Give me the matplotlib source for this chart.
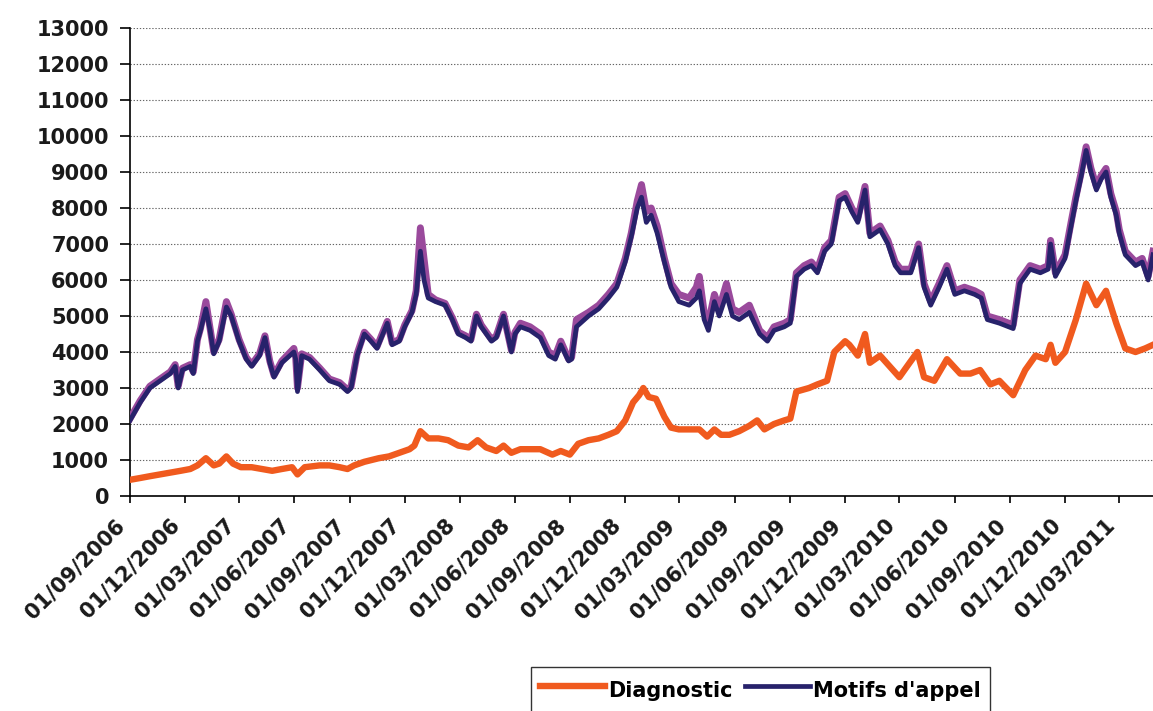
import matplotlib
matplotlib.use("Agg")
import matplotlib.pyplot as plt
import matplotlib.dates as mdates
from matplotlib.transforms import ScaledTranslation
import pandas as pd

# ---------------- data ----------------
motifs_dates = [
    "2006-09-01", "2006-09-18", "2006-10-04", "2006-10-21", "2006-11-07", "2006-11-15", "2006-11-20", "2006-11-27",
    "2006-12-10", "2006-12-15", "2006-12-22", "2006-12-27",
    "2007-01-05", "2007-01-12", "2007-01-18", "2007-01-27", "2007-02-08", "2007-02-16", "2007-03-01", "2007-03-13",
    "2007-03-22", "2007-04-04", "2007-04-13", "2007-04-21", "2007-04-28", "2007-05-11", "2007-05-31", "2007-06-03",
    "2007-06-06", "2007-06-13", "2007-06-26", "2007-07-13", "2007-07-29", "2007-08-15", "2007-08-28", "2007-09-03",
    "2007-09-13", "2007-09-25", "2007-10-06", "2007-10-16", "2007-11-02", "2007-11-10", "2007-11-22", "2007-12-01",
    "2007-12-13", "2007-12-20", "2007-12-27",
    "2008-01-02", "2008-01-09", "2008-01-21", "2008-02-06", "2008-02-18", "2008-02-28", "2008-03-11", "2008-03-20",
    "2008-03-29", "2008-04-06", "2008-04-23", "2008-05-01", "2008-05-13", "2008-05-26", "2008-06-01", "2008-06-10",
    "2008-06-26", "2008-07-13", "2008-07-27", "2008-08-07", "2008-08-16", "2008-08-29", "2008-09-03", "2008-09-11",
    "2008-10-01", "2008-10-18", "2008-11-03", "2008-11-17", "2008-12-01", "2008-12-11", "2008-12-21", "2008-12-28",
    "2009-01-05", "2009-01-13", "2009-01-23", "2009-02-04", "2009-02-15", "2009-02-28", "2009-03-17", "2009-03-29",
    "2009-04-03", "2009-04-11", "2009-04-18", "2009-04-28", "2009-05-06", "2009-05-18", "2009-05-28", "2009-06-08",
    "2009-06-25", "2009-07-12", "2009-07-25", "2009-08-05", "2009-08-22", "2009-09-01", "2009-09-11", "2009-09-24",
    "2009-10-06", "2009-10-16", "2009-10-28", "2009-11-08", "2009-11-21", "2009-12-01", "2009-12-12", "2009-12-22",
    "2010-01-03", "2010-01-11", "2010-01-28", "2010-02-10", "2010-02-22", "2010-03-03", "2010-03-20", "2010-04-02",
    "2010-04-11", "2010-04-22", "2010-05-06", "2010-05-19", "2010-06-01", "2010-06-17", "2010-07-04", "2010-07-15",
    "2010-07-25", "2010-08-14", "2010-09-06", "2010-09-17", "2010-10-04", "2010-10-21", "2010-11-03", "2010-11-07",
    "2010-11-15", "2010-12-01", "2010-12-11", "2010-12-19", "2010-12-28",
    "2011-01-05", "2011-01-13", "2011-01-22", "2011-01-30", "2011-02-07", "2011-02-15", "2011-02-24", "2011-03-01",
    "2011-03-11", "2011-03-28", "2011-04-08", "2011-04-18", "2011-04-26",
]
motifs_values = [
    2100, 2600, 3000, 3200, 3400, 3600, 3000, 3500, 3600, 3400, 4300, 4600,
    5200, 4600, 3950, 4300, 5250, 5000, 4300, 3800, 3600, 3900, 4400, 3700, 3300, 3700, 4000, 3800, 2900, 3900,
    3800, 3500, 3200, 3100, 2900, 3000, 3900, 4500, 4300, 4100, 4800, 4200, 4300, 4700, 5100, 5600, 6800,
    6000, 5500, 5400, 5300, 4900, 4500, 4400, 4300, 5000, 4700, 4300, 4400, 5000, 4000, 4500, 4700, 4600, 4400,
    3900, 3800, 4200, 3750, 3800, 4700, 5000, 5200, 5500, 5800, 6500, 7200, 8000, 8300,
    7600, 7800, 7300, 6500, 5800, 5400, 5300, 5500, 5700, 4900, 4600, 5400, 5000, 5600, 5000, 4900, 5100, 4500,
    4300, 4600, 4700, 4800, 6100, 6300, 6400, 6200, 6800, 7000, 8200, 8300, 7900, 7600,
    8500, 7200, 7400, 7000, 6400, 6200, 6200, 6900, 5800, 5300, 5800, 6300, 5600, 5700, 5600, 5500, 4900, 4800,
    4650, 5900, 6300, 6200, 6300, 7000, 6100, 6600, 7500, 8200, 8900,
    9600, 9000, 8500, 8800, 9000, 8300, 7800, 7300, 6700, 6400, 6500, 6000, 6700,
]
# purple trace drawn beneath the dark line (visible where it rises above it)
motifs_upper_values = [
    2150, 2650, 3050, 3250, 3450, 3650, 3050, 3550, 3650, 3450, 4350, 4650,
    5400, 4650, 4000, 4350, 5400, 5050, 4350, 3850, 3650, 3950, 4450, 3750, 3350, 3750, 4100, 3850, 3000, 3950,
    3850, 3550, 3250, 3150, 2950, 3050, 3950, 4550, 4350, 4150, 4850, 4250, 4350, 4750, 5150, 5700, 7450,
    6600, 5600, 5450, 5350, 4950, 4550, 4450, 4350, 5050, 4750, 4350, 4450, 5050, 4050, 4550, 4800, 4700, 4500,
    4000, 3900, 4300, 3800, 3850, 4900, 5100, 5300, 5600, 5900, 6600, 7300, 8200, 8650,
    7900, 8000, 7500, 6600, 5900, 5600, 5500, 5800, 6100, 5100, 4800, 5600, 5200, 5900, 5200, 5100, 5300, 4600,
    4400, 4700, 4800, 4900, 6200, 6400, 6500, 6300, 6900, 7100, 8300, 8400, 8000, 7700,
    8600, 7300, 7500, 7100, 6500, 6300, 6300, 7000, 5900, 5400, 5900, 6400, 5700, 5800, 5700, 5600, 5000, 4900,
    4750, 6000, 6400, 6300, 6400, 7100, 6200, 6700, 7600, 8300, 9000,
    9700, 9100, 8600, 8900, 9100, 8400, 7900, 7400, 6800, 6500, 6600, 6100, 6800,
]

diag_dates = [
    "2006-09-01", "2006-09-18", "2006-10-04", "2006-10-21", "2006-11-07", "2006-11-24", "2006-12-10", "2006-12-22",
    "2007-01-05", "2007-01-18", "2007-01-27", "2007-02-08", "2007-02-19", "2007-03-04", "2007-03-22", "2007-04-08",
    "2007-04-25", "2007-05-11", "2007-05-28", "2007-06-06", "2007-06-18", "2007-07-13", "2007-07-29", "2007-08-15",
    "2007-08-28", "2007-09-08", "2007-09-25", "2007-10-19", "2007-11-05", "2007-11-22", "2007-12-09", "2007-12-17",
    "2007-12-27",
    "2008-01-09", "2008-01-26", "2008-02-11", "2008-02-28", "2008-03-16", "2008-03-31", "2008-04-14", "2008-05-01",
    "2008-05-13", "2008-05-26", "2008-06-10", "2008-06-26", "2008-07-13", "2008-08-02", "2008-08-16", "2008-08-31",
    "2008-09-14", "2008-10-01", "2008-10-18", "2008-11-03", "2008-11-17", "2008-12-01", "2008-12-14", "2008-12-24",
    "2008-12-31",
    "2009-01-09", "2009-01-21", "2009-02-04", "2009-02-15", "2009-02-28", "2009-03-17", "2009-04-03", "2009-04-16",
    "2009-04-28", "2009-05-09", "2009-05-23", "2009-06-08", "2009-06-25", "2009-07-08", "2009-07-20", "2009-08-05",
    "2009-08-22", "2009-09-01", "2009-09-11", "2009-10-02", "2009-10-16", "2009-11-01", "2009-11-13", "2009-12-01",
    "2009-12-08", "2009-12-22",
    "2010-01-03", "2010-01-11", "2010-01-28", "2010-02-13", "2010-03-01", "2010-03-18", "2010-03-31", "2010-04-11",
    "2010-04-28", "2010-05-19", "2010-06-10", "2010-06-27", "2010-07-13", "2010-07-30", "2010-08-14", "2010-09-06",
    "2010-09-26", "2010-10-13", "2010-10-30", "2010-11-07", "2010-11-15", "2010-12-01", "2010-12-19",
    "2011-01-05", "2011-01-22", "2011-02-07", "2011-02-24", "2011-03-11", "2011-03-28", "2011-04-13", "2011-04-26",
]
diag_values = [
    450, 500, 550, 600, 650, 700, 750, 850,
    1050, 850, 900, 1100, 900, 800, 800, 750, 700, 750, 800, 600, 800, 850, 850, 800, 750, 850, 950, 1050,
    1100, 1200, 1300, 1400, 1800,
    1600, 1600, 1550, 1400, 1350, 1550, 1350, 1250, 1400, 1200, 1300, 1300, 1300, 1150, 1250, 1150, 1450, 1550,
    1600, 1700, 1800, 2100, 2600, 2800, 3000,
    2750, 2700, 2200, 1900, 1850, 1850, 1850, 1650, 1850, 1700, 1700, 1800, 1950, 2100, 1850, 2000, 2100, 2150,
    2900, 3000, 3100, 3200, 4000, 4300, 4200, 3900,
    4500, 3700, 3900, 3600, 3300, 3700, 4000, 3300, 3200, 3800, 3400, 3400, 3500, 3100, 3200, 2800, 3500, 3900,
    3800, 4200, 3700, 4000, 4900,
    5900, 5300, 5700, 4800, 4100, 4000, 4100, 4200,
]

y_ticks = list(range(0, 13001, 1000))
x_tick_dates = pd.date_range("2006-09-01", "2011-03-01", freq="3MS")
x_limits = ("2006-09-01", "2011-04-26")
legend_labels = ["Diagnostic", "Motifs d'appel"]

# ---------------- figure ----------------
plt.rcParams["font.family"] = ["DejaVu Sans"]
fig = plt.figure(figsize=(11.53, 7.11), dpi=100)
ax = fig.add_axes([130 / 1153, 215 / 711, 1 - 130 / 1153, 468 / 711])

md = pd.to_datetime(motifs_dates)
dd = pd.to_datetime(diag_dates)

ax.plot(md, motifs_upper_values, color="#9a4a9c", lw=5.0, solid_joinstyle="round", zorder=3)
l_diag, = ax.plot(dd, diag_values, color="#f05a1e", lw=4.6, solid_joinstyle="round", zorder=4,
                  label=legend_labels[0])
l_mot, = ax.plot(md, motifs_values, color="#27226b", lw=3.4, solid_joinstyle="round", zorder=5,
                 label=legend_labels[1])

ax.set_xlim(pd.Timestamp(x_limits[0]), pd.Timestamp(x_limits[1]))
ax.set_ylim(0, 13000)
ax.set_yticks(y_ticks)
ax.set_yticklabels([str(v) for v in y_ticks])
ax.yaxis.grid(True, linestyle=(0, (1.2, 1.6)), color="#666666", linewidth=0.8)
ax.set_axisbelow(True)

ax.set_xticks(x_tick_dates)
ax.xaxis.set_major_formatter(mdates.DateFormatter("%d/%m/%Y"))

for s in ("top", "right"):
    ax.spines[s].set_visible(False)
for s in ("left", "bottom"):
    ax.spines[s].set_linewidth(1.2)
    ax.spines[s].set_color("black")

ax.tick_params(axis="y", direction="out", length=7, width=1.2, pad=8, labelsize=15)
ax.tick_params(axis="x", direction="out", length=5, width=1.2, pad=14, labelsize=15)
for t in ax.get_yticklabels():
    t.set_fontweight("bold")
    t.set_color("#1a1a1a")
for t in ax.get_xticklabels():
    t.set_rotation(45)
    t.set_ha("right")
    t.set_va("center")
    t.set_rotation_mode("anchor")
    t.set_fontweight("bold")
    t.set_color("#1a1a1a")
    t.set_transform(t.get_transform() + ScaledTranslation(-8 / 100, 0, fig.dpi_scale_trans))

leg = fig.legend(handles=[l_diag, l_mot], labels=legend_labels, loc="upper left",
                 bbox_to_anchor=(531 / 1153, 1 - 667 / 711), borderaxespad=0.0, ncol=2, frameon=True,
                 fancybox=False, edgecolor="black", handlelength=3.1, handletextpad=0.15, columnspacing=0.6,
                 handleheight=1.6, borderpad=0.45, prop={"size": 15, "weight": "bold"})
leg.get_frame().set_linewidth(1.0)

fig.savefig("out.png", dpi=100, facecolor="white")
